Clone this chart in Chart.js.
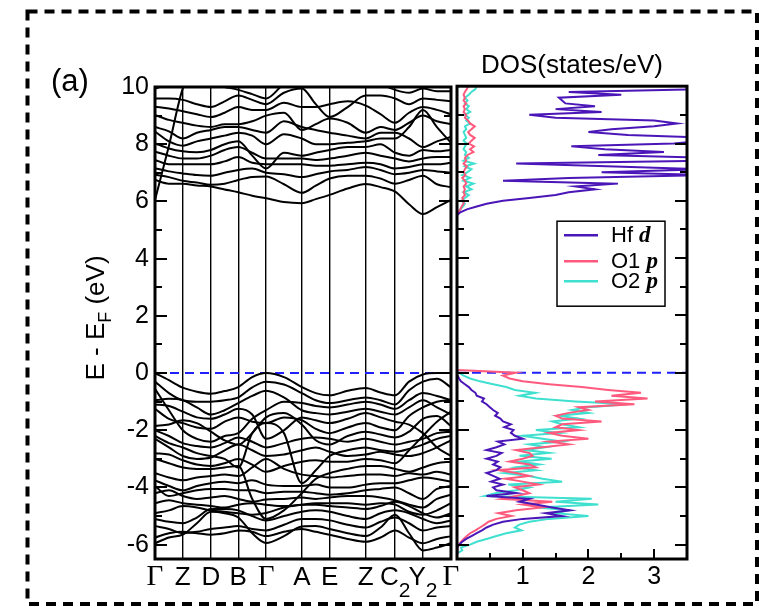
<!DOCTYPE html>
<html>
<head>
<meta charset="utf-8">
<script src="https://cdn.jsdelivr.net/npm/chart.js@4.4.1/dist/chart.umd.min.js"></script>
<style>
  html, body { margin: 0; padding: 0; background: #fff; }
  #wrap { position: relative; width: 759px; height: 616px; }
  #wrap canvas { position: absolute; left: 0; top: 0; }
</style>
</head>
<body>
<div id="wrap">
  <canvas id="bandCanvas" width="759" height="616"></canvas>
  <canvas id="dosCanvas" width="759" height="616"></canvas>
</div>
<script>
// ---- k-path: high-symmetry points and the sampled k positions along the path
const kLabels = ['Γ', 'Z', 'D', 'B', 'Γ', 'A', 'E', 'Z', 'C', 'Y', 'Γ'];
const kLabelSubs = ['', '', '', '', '', '', '', '', '2', '2', ''];
const kHS = [0, 0.277, 0.557, 0.83, 1.107, 1.463, 1.74, 2.10, 2.393, 2.67, 2.95];
const kPath = [0, 0.139, 0.277, 0.417, 0.557, 0.694, 0.83, 0.969, 1.107, 1.285, 1.463,
               1.602, 1.74, 1.92, 2.10, 2.247, 2.393, 2.532, 2.67, 2.81, 2.95];

// ---- energy axis ticks (eV)
const energyLabelTicks = [-6, -4, -2, 0, 2, 4, 6, 8, 10];
const energyAllTicks = [-6, -5, -4, -3, -2, -1, 0, 1, 2, 3, 4, 5, 6, 7, 8, 9, 10];
const dosLabelTicks = [1, 2, 3];
const dosAllTicks = [0.5, 1, 1.5, 2, 2.5, 3];

// ---- valence bands (eV), one value per kPath point
const v01 = [0.00,-0.25,-0.51,-0.65,-0.72,-0.63,-0.49,-0.14,0.00,-0.14,-0.49,-0.70,-0.78,-0.62,-0.52,-0.68,-0.78,-0.30,-0.05,0.00,0.00];
const v02 = [-0.30,-0.70,-0.95,-1.00,-1.00,-0.95,-0.85,-0.50,-0.30,-0.40,-0.70,-0.95,-1.05,-0.95,-0.85,-0.95,-1.10,-0.60,-0.30,-0.20,-0.50];
const v03 = [-0.55,-1.30,-2.00,-2.30,-2.40,-2.20,-2.10,-1.60,-1.30,-1.00,-1.05,-1.15,-1.20,-1.10,-1.00,-1.10,-1.25,-0.95,-0.70,-0.80,-0.95];
const v04 = [-0.95,-0.90,-0.95,-1.20,-1.45,-1.30,-1.05,-0.80,-0.62,-0.85,-1.30,-1.40,-1.45,-1.35,-1.25,-1.35,-1.45,-1.20,-0.95,-1.20,-1.45];
const v05 = [-1.10,-1.15,-1.35,-1.55,-1.60,-1.45,-1.25,-1.45,-2.30,-2.00,-1.55,-1.65,-1.75,-1.60,-1.40,-1.55,-1.70,-1.80,-2.10,-2.60,-2.90];
const v06 = [-1.25,-1.60,-1.75,-1.90,-1.95,-1.70,-1.55,-1.70,-1.75,-1.55,-1.65,-1.95,-2.10,-1.90,-1.75,-1.90,-2.00,-1.50,-1.20,-1.00,-0.95];
const v07 = [-1.85,-1.80,-1.65,-1.75,-2.05,-2.35,-2.50,-2.10,-1.55,-1.40,-1.80,-2.35,-2.50,-2.20,-2.05,-2.15,-2.25,-2.05,-1.60,-1.50,-1.85];
const v08 = [-2.00,-2.20,-2.45,-2.55,-2.60,-2.45,-2.25,-2.40,-2.60,-2.45,-2.30,-2.25,-2.30,-2.40,-2.30,-2.40,-2.50,-2.40,-2.30,-2.10,-2.05];
const v09 = [-2.20,-2.45,-2.60,-2.80,-2.90,-3.00,-3.30,-2.10,-1.75,-2.10,-3.85,-3.40,-2.90,-2.70,-2.60,-2.70,-2.75,-2.65,-2.50,-2.30,-2.20];
const v10 = [-2.30,-2.60,-2.90,-3.00,-2.95,-2.70,-2.50,-2.70,-2.90,-2.85,-2.70,-2.60,-2.75,-2.90,-2.85,-2.75,-2.85,-2.90,-2.80,-2.60,-2.35];
const v11 = [-2.80,-2.85,-3.05,-3.20,-3.25,-3.15,-3.00,-3.20,-3.45,-3.25,-3.10,-3.05,-3.10,-3.10,-3.00,-3.05,-3.15,-2.70,-2.20,-1.70,-1.35];
const v12 = [-3.00,-3.15,-3.30,-3.35,-3.35,-3.30,-3.25,-4.40,-5.10,-4.80,-4.20,-3.70,-3.50,-3.35,-3.25,-3.25,-3.35,-3.45,-3.30,-3.15,-3.10];
const v13 = [-3.50,-3.65,-3.75,-3.65,-3.60,-3.55,-3.60,-3.30,-3.00,-3.35,-3.55,-3.60,-3.65,-3.60,-3.55,-3.55,-3.60,-3.50,-3.55,-3.45,-3.55];
const v14 = [-3.75,-3.95,-4.10,-3.95,-3.85,-3.80,-3.85,-3.75,-3.90,-3.95,-3.95,-3.90,-4.00,-4.00,-3.90,-3.85,-3.85,-3.75,-3.65,-3.70,-3.80];
const v15 = [-3.95,-4.30,-4.20,-4.10,-4.05,-4.05,-4.10,-4.10,-4.20,-4.15,-4.15,-4.20,-4.25,-4.20,-4.10,-4.05,-4.00,-4.20,-4.40,-4.05,-3.95];
const v16 = [-4.20,-4.10,-4.30,-4.40,-4.35,-4.30,-4.40,-4.50,-4.42,-4.40,-4.35,-4.40,-4.35,-4.30,-4.30,-4.35,-4.45,-4.60,-4.70,-4.40,-4.25];
const v17 = [-4.55,-4.45,-4.55,-4.60,-4.65,-4.70,-4.60,-4.55,-4.60,-4.65,-4.60,-4.55,-4.55,-4.55,-4.60,-4.55,-4.60,-4.85,-4.95,-4.80,-4.55];
const v18 = [-4.90,-4.80,-4.65,-4.70,-4.80,-4.85,-4.90,-4.95,-4.89,-4.70,-4.60,-4.60,-4.65,-4.70,-4.75,-4.65,-4.50,-4.65,-4.90,-5.05,-4.90];
const v19 = [-5.10,-5.20,-5.25,-5.05,-4.75,-4.75,-4.80,-5.00,-5.15,-5.00,-4.85,-4.80,-4.85,-5.00,-5.10,-4.90,-4.80,-4.90,-5.10,-5.25,-5.15];
const v20 = [-5.35,-5.45,-5.60,-5.55,-5.45,-5.40,-5.35,-5.45,-5.50,-5.30,-5.10,-5.10,-5.15,-5.30,-5.40,-5.20,-5.05,-5.25,-5.50,-5.40,-5.35];
const v21 = [-5.75,-5.60,-5.55,-5.60,-5.65,-5.60,-5.50,-5.55,-5.70,-5.55,-5.45,-5.55,-5.65,-5.80,-5.90,-5.75,-5.50,-5.75,-5.95,-5.80,-5.70];
const v22 = [-5.95,-5.75,-5.65,-5.25,-4.85,-4.90,-5.05,-5.60,-5.94,-5.70,-5.36,-5.35,-5.45,-5.60,-5.70,-5.40,-4.95,-5.60,-6.20,-6.10,-5.95];

// ---- conduction bands (eV)
const c01 = [6.75,6.62,6.62,6.56,6.52,6.42,6.32,6.20,6.11,5.98,5.94,6.08,6.23,6.45,6.61,6.50,6.34,5.90,5.56,5.80,6.05];
const c02 = [6.93,6.85,6.72,6.66,6.58,6.62,6.75,6.85,6.87,6.60,6.30,6.55,6.80,6.90,6.90,6.80,6.62,6.75,6.90,6.60,6.50];
const c03 = [7.16,7.05,6.98,6.92,6.90,7.00,7.10,7.15,7.00,6.95,6.85,6.95,7.05,7.10,7.20,7.10,6.95,7.00,7.10,7.05,7.00];
const c04 = [7.45,7.30,7.30,7.30,7.30,7.40,7.55,7.35,7.30,7.30,7.30,7.25,7.25,7.30,7.35,7.30,7.15,7.20,7.30,7.30,7.35];
const c05 = [7.74,7.60,7.50,7.50,7.60,7.80,7.90,7.70,7.50,7.50,7.50,7.45,7.50,7.60,7.70,7.60,7.50,7.40,7.50,7.55,7.55];
const c06 = [8.03,7.85,7.75,7.72,7.80,8.00,8.10,7.60,7.15,7.70,7.60,7.70,7.80,7.90,7.90,8.00,7.70,7.60,7.80,7.75,7.80];
const c07 = [8.44,8.10,7.95,8.10,8.20,8.30,8.40,8.30,8.00,8.35,8.20,8.00,8.00,8.05,8.10,8.20,8.20,8.60,9.20,8.60,8.05];
const c08 = [8.60,8.45,8.20,8.40,8.50,8.60,8.60,8.50,8.40,8.80,8.60,8.50,8.40,8.30,8.20,8.40,8.40,8.20,7.90,8.10,8.25];
const c09 = [9.02,8.85,8.75,8.65,8.60,8.70,8.70,8.80,9.00,9.10,8.50,8.70,8.90,8.75,8.40,8.60,8.50,8.75,9.00,8.80,8.70];
const c10 = [9.31,9.25,9.15,9.05,8.95,9.10,9.30,9.20,9.20,9.45,9.30,9.30,9.40,9.50,9.35,9.05,8.75,9.10,9.30,9.20,9.05];
const c11 = [9.60,9.60,9.55,9.40,9.30,9.50,9.70,9.55,9.40,9.80,9.95,9.40,8.95,9.30,9.70,9.70,9.60,9.40,9.60,9.55,9.50];
const c12 = [9.95,10.10,10.20,10.10,10.10,10.00,9.90,9.75,9.60,10.10,10.30,10.20,10.10,10.20,10.30,10.10,9.90,9.80,9.95,9.85,9.85];
const c13 = [6.05,7.95,9.95,10.80,null,null,null,null,null,null,null,null,null,null,null,null,null,null,null,null,null];

const bands = [v01, v02, v03, v04, v05, v06, v07, v08, v09, v10, v11, v12, v13, v14, v15, v16, v17, v18, v19, v20, v21, v22,
               c01, c02, c03, c04, c05, c06, c07, c08, c09, c10, c11, c12, c13];

// ---- projected DOS (states/eV) on two energy grids: valence and conduction region
const eVal = [-6.3,-6.2,-6.1,-6.0,-5.9,-5.8,-5.7,-5.6,-5.5,-5.4,
              -5.3,-5.2,-5.1,-5.0,-4.9,-4.8,-4.7,-4.6,-4.5,-4.4,
              -4.3,-4.2,-4.1,-4.0,-3.9,-3.8,-3.7,-3.6,-3.5,-3.4,
              -3.3,-3.2,-3.1,-3.0,-2.9,-2.8,-2.7,-2.6,-2.5,-2.4,
              -2.3,-2.2,-2.1,-2.0,-1.9,-1.8,-1.7,-1.6,-1.5,-1.4,
              -1.3,-1.2,-1.1,-1.0,-0.9,-0.8,-0.7,-0.6,-0.5,-0.4,
              -0.3,-0.2,-0.1,0.0,0.1];
const eCon = [5.5,5.6,5.7,5.8,5.9,6.0,6.1,6.2,6.3,6.4,
              6.5,6.6,6.7,6.8,6.9,7.0,7.1,7.2,7.3,7.4,
              7.5,7.6,7.7,7.8,7.9,8.0,8.1,8.2,8.3,8.4,
              8.5,8.6,8.7,8.8,8.9,9.0,9.1,9.2,9.3,9.4,
              9.5,9.6,9.7,9.8,9.9,10.0];

const hfdVal = [0,0,0.01,0.03,0.08,0.14,0.22,0.30,0.38,0.45,
                0.55,0.70,1.00,1.60,1.35,1.72,1.45,1.20,0.95,1.10,
                0.45,0.90,0.60,0.55,0.70,0.52,0.65,0.55,0.45,0.60,
                0.66,0.55,0.62,0.45,0.60,0.68,0.45,0.60,0.72,0.62,
                1.00,0.88,0.82,0.86,0.72,0.82,0.70,0.66,0.58,0.62,
                0.55,0.50,0.45,0.38,0.41,0.30,0.28,0.22,0.18,0.12,
                0.06,0.03,0.01,0,0];
const o1pVal = [0,0,0.01,0.03,0.06,0.10,0.15,0.20,0.28,0.35,
                0.42,0.48,0.60,0.83,0.63,0.90,1.30,1.00,1.45,0.68,
                0.90,1.10,1.00,0.88,1.24,1.00,0.73,1.10,0.90,0.63,
                1.20,1.10,0.80,1.00,1.15,1.10,0.90,1.30,1.70,1.40,
                2.00,1.60,1.40,1.85,1.50,1.60,2.20,1.60,1.50,1.70,
                2.00,1.85,2.70,2.10,2.90,2.35,2.80,2.30,1.90,1.40,
                1.00,0.80,0.70,0.90,0];
const o2pVal = [0,0.08,0.06,0.20,0.30,0.45,0.60,0.75,0.98,0.88,
                0.95,1.10,1.40,2.00,1.50,1.70,1.24,2.15,1.50,2.05,
                0.43,0.60,0.90,1.10,0.78,1.60,1.30,1.10,0.73,1.20,
                0.90,1.25,0.95,1.44,0.95,1.40,1.05,1.35,1.10,1.60,
                1.30,1.00,1.55,1.20,1.85,1.60,1.45,1.85,1.55,2.00,
                1.75,2.00,2.60,1.80,1.20,0.95,1.19,0.88,0.75,0.55,
                0.35,0.20,0.10,0.03,0];

const hfdCon = [0,0.05,0.15,0.30,0.45,0.70,1.10,1.50,1.70,2.10,
                1.80,2.45,0.70,1.70,3.80,2.20,3.80,2.40,0.90,3.80,
                3.80,2.15,3.15,2.25,1.74,3.30,3.80,3.80,2.60,2.00,
                2.35,3.00,3.35,3.00,1.50,1.10,2.20,1.50,2.10,1.65,
                1.60,1.55,2.50,1.70,3.80,3.80];
const o1pCon = [0,0.02,0.05,0.07,0.10,0.10,0.08,0.12,0.10,0.12,
                0.10,0.14,0.12,0.08,0.13,0.10,0.12,0.15,0.10,0.14,
                0.12,0.16,0.25,0.20,0.26,0.18,0.22,0.27,0.20,0.17,
                0.22,0.27,0.20,0.17,0.12,0.14,0.10,0.12,0.10,0.14,
                0.10,0.12,0.10,0.12,0.15,0.17];
const o2pCon = [0,0.03,0.05,0.09,0.12,0.07,0.12,0.18,0.10,0.22,
                0.14,0.25,0.10,0.20,0.08,0.16,0.22,0.12,0.26,0.10,
                0.18,0.12,0.14,0.10,0.12,0.15,0.10,0.14,0.12,0.10,
                0.14,0.12,0.20,0.14,0.18,0.12,0.20,0.14,0.18,0.12,
                0.16,0.12,0.18,0.22,0.28,0.30];

const seriesNames = ['Hf', 'O1', 'O2'];
const seriesOrbitals = ['d', 'p', 'p'];
const seriesColors = ['#4b16b8', '#ff5a7d', '#3fe0cf'];
const fermiColor = '#2020ff';

const SANS = '"Liberation Sans", Arial, sans-serif';
const SERIF = '"Liberation Serif", "Times New Roman", serif';

// inward tick marks and the heavy panel frame
function drawFrame(chart, opts) {
  const { ctx, chartArea: a, scales } = chart;
  const ys = scales.y;
  ctx.save();
  ctx.strokeStyle = '#000';
  ctx.lineWidth = 2;
  ctx.setLineDash([]);
  ctx.beginPath();
  energyAllTicks.forEach(v => {
    const len = v % 2 === 0 ? 12 : 7;
    const py = Math.round(ys.getPixelForValue(v));
    if (opts.left) { ctx.moveTo(a.left, py); ctx.lineTo(a.left + len, py); }
    if (opts.right) { ctx.moveTo(a.right - len, py); ctx.lineTo(a.right, py); }
  });
  if (opts.bottom) {
    const xs = scales.x;
    dosAllTicks.forEach(v => {
      const len = Number.isInteger(v) ? 10 : 6;
      const px = Math.round(xs.getPixelForValue(v));
      ctx.moveTo(px, a.bottom); ctx.lineTo(px, a.bottom - len);
    });
  }
  ctx.stroke();
  ctx.lineWidth = 3;
  ctx.strokeRect(a.left, a.top, a.right - a.left, a.bottom - a.top);
  ctx.restore();
}

const bandDecor = {
  id: 'bandDecor',
  beforeDraw(chart) {
    const ctx = chart.ctx;
    ctx.save();
    ctx.strokeStyle = '#000';
    ctx.lineWidth = 4;
    ctx.setLineDash([10, 7]);
    ctx.strokeRect(27.5, 11.5, 729.5, 592.5);
    ctx.restore();
  },
  afterDatasetsDraw(chart) {
    drawFrame(chart, { left: true, right: true });
  },
  afterDraw(chart) {
    const { ctx, scales, chartArea: a } = chart;
    const xs = scales.x;
    ctx.save();
    ctx.fillStyle = '#000';
    ctx.textBaseline = 'alphabetic';
    ctx.textAlign = 'left';
    // panel tag
    ctx.font = '31px ' + SANS;
    ctx.fillText('(a)', 51, 91);
    // high-symmetry point labels
    const baseY = a.bottom + 26;
    kLabels.forEach((lab, i) => {
      const mainFont = lab === 'Γ' ? '29px ' + SERIF : '26px ' + SANS;
      const subFont = '21px ' + SANS;
      ctx.font = mainFont;
      const wm = ctx.measureText(lab).width;
      ctx.font = subFont;
      const ws = kLabelSubs[i] ? ctx.measureText(kLabelSubs[i]).width : 0;
      const x0 = xs.getPixelForValue(kHS[i]) - (wm + ws) / 2;
      ctx.font = mainFont;
      ctx.fillText(lab, x0, baseY);
      if (kLabelSubs[i]) {
        ctx.font = subFont;
        ctx.fillText(kLabelSubs[i], x0 + wm, baseY + 12);
      }
    });
    // energy axis title, rotated, with subscript F
    const p1 = 'E - E', sub = 'F', p2 = ' (eV)';
    ctx.font = '26px ' + SANS;
    const w1 = ctx.measureText(p1).width, w2 = ctx.measureText(p2).width;
    ctx.font = '18px ' + SANS;
    const wsF = ctx.measureText(sub).width;
    const total = w1 + wsF + w2;
    ctx.translate(97, (a.top + a.bottom) / 2 - 5);
    ctx.rotate(-Math.PI / 2);
    ctx.textBaseline = 'middle';
    let x = -total / 2;
    ctx.font = '26px ' + SANS;
    ctx.fillText(p1, x, 0); x += w1;
    ctx.font = '18px ' + SANS;
    ctx.fillText(sub, x, 9); x += wsF;
    ctx.font = '26px ' + SANS;
    ctx.fillText(p2, x, 0);
    ctx.restore();
  }
};

const dosDecor = {
  id: 'dosDecor',
  afterDatasetsDraw(chart) {
    drawFrame(chart, { left: true, right: true, bottom: true });
  },
  afterDraw(chart) {
    const { ctx, chartArea: a } = chart;
    const bx = a.left + 100, by = a.top + 135, bw = 108, bh = 85;
    const rowY = [by + 14, by + 40, by + 60];
    ctx.save();
    ctx.fillStyle = '#fff';
    ctx.fillRect(bx, by, bw, bh);
    ctx.strokeStyle = '#000';
    ctx.lineWidth = 1.5;
    ctx.strokeRect(bx, by, bw, bh);
    chart.data.datasets.slice(0, 3).forEach((ds, i) => {
      ctx.strokeStyle = ds.borderColor;
      ctx.lineWidth = 2.5;
      ctx.beginPath();
      ctx.moveTo(bx + 7, rowY[i]);
      ctx.lineTo(bx + 41, rowY[i]);
      ctx.stroke();
      ctx.fillStyle = '#000';
      ctx.textBaseline = 'middle';
      ctx.font = '22px ' + SANS;
      const name = seriesNames[i] + ' ';
      ctx.fillText(name, bx + 54, rowY[i] + 1);
      const wn = ctx.measureText(name).width;
      ctx.font = 'italic bold 23px ' + SERIF;
      ctx.fillText(seriesOrbitals[i], bx + 54 + wn, rowY[i] + 1);
    });
    ctx.restore();
  }
};

// ---- band structure panel
const bandDatasets = bands.map(b => ({
  data: b.map((e, i) => ({ x: kPath[i], y: e })),
  borderColor: '#000',
  borderWidth: 2,
  pointRadius: 0,
  cubicInterpolationMode: 'monotone',
  fill: false,
  spanGaps: false
}));
bandDatasets.push({
  data: [{ x: kHS[0], y: 0 }, { x: kHS[kHS.length - 1], y: 0 }],
  borderColor: fermiColor,
  borderWidth: 2,
  borderDash: [9, 6],
  pointRadius: 0,
  fill: false
});

new Chart(document.getElementById('bandCanvas'), {
  type: 'line',
  data: { datasets: bandDatasets },
  options: {
    responsive: false,
    animation: false,
    devicePixelRatio: 1,
    layout: { padding: { left: 0, top: 87, right: 308, bottom: 17 } },
    plugins: { legend: { display: false }, tooltip: { enabled: false }, title: { display: false } },
    scales: {
      x: {
        type: 'linear', min: 0, max: 2.95,
        afterBuildTicks: s => { s.ticks = kHS.map(v => ({ value: v })); },
        afterFit: s => { s.height = 40; },
        grid: { color: '#000', lineWidth: 1.4, drawTicks: false },
        border: { display: false },
        ticks: { display: false }
      },
      y: {
        type: 'linear', min: -6.5, max: 10,
        afterBuildTicks: s => { s.ticks = energyLabelTicks.map(v => ({ value: v })); },
        afterFit: s => { s.width = 155; },
        grid: { display: false, drawTicks: false },
        border: { display: false },
        ticks: { color: '#000', padding: 6, font: { family: SANS, size: 25 } }
      }
    }
  },
  plugins: [bandDecor]
});

// ---- DOS panel
function dosPoints(val, con) {
  return eVal.map((e, i) => ({ x: val[i], y: e }))
    .concat([{ x: null, y: null }])
    .concat(eCon.map((e, i) => ({ x: con[i], y: e })));
}
const dosDatasets = [
  { label: 'Hf d', data: dosPoints(hfdVal, hfdCon), borderColor: seriesColors[0] },
  { label: 'O1 p', data: dosPoints(o1pVal, o1pCon), borderColor: seriesColors[1] },
  { label: 'O2 p', data: dosPoints(o2pVal, o2pCon), borderColor: seriesColors[2] }
].map(d => Object.assign(d, { borderWidth: 2, pointRadius: 0, fill: false, spanGaps: false, tension: 0 }));
dosDatasets.push({
  label: 'EF',
  data: [{ x: 0, y: 0 }, { x: 3.5, y: 0 }],
  borderColor: fermiColor,
  borderWidth: 2,
  borderDash: [9, 6],
  pointRadius: 0,
  fill: false
});

new Chart(document.getElementById('dosCanvas'), {
  type: 'line',
  data: { datasets: dosDatasets },
  options: {
    responsive: false,
    animation: false,
    devicePixelRatio: 1,
    layout: { padding: { left: 457, top: 50, right: 72, bottom: 17 } },
    plugins: {
      legend: { display: false },
      tooltip: { enabled: false },
      title: {
        display: true,
        text: 'DOS(states/eV)',
        color: '#000',
        font: { family: SANS, size: 26, weight: 'normal' },
        padding: { top: 0, bottom: 5 }
      }
    },
    scales: {
      x: {
        type: 'linear', min: 0, max: 3.5,
        afterBuildTicks: s => { s.ticks = dosLabelTicks.map(v => ({ value: v })); },
        afterFit: s => { s.height = 40; },
        grid: { display: false, drawTicks: false },
        border: { display: false },
        ticks: { color: '#000', padding: 3, font: { family: SANS, size: 25 } }
      },
      y: { type: 'linear', min: -6.5, max: 10, display: false }
    }
  },
  plugins: [dosDecor]
});
</script>
</body>
</html>
